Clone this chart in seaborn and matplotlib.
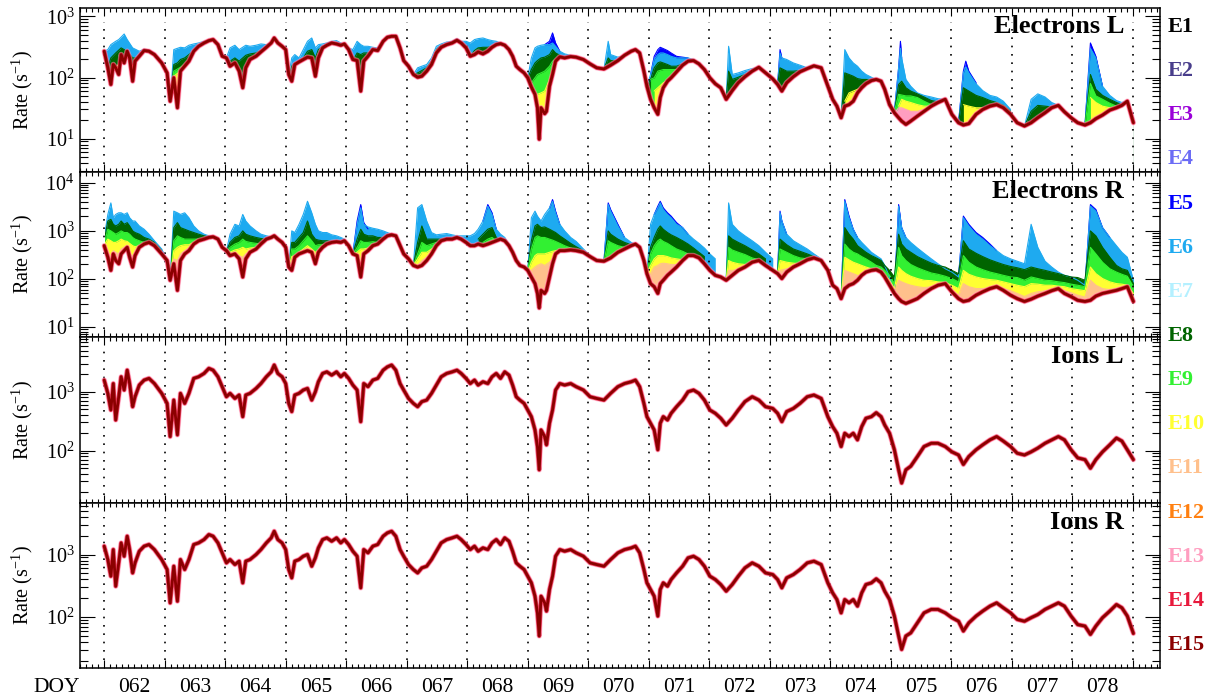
import numpy as np
import matplotlib
matplotlib.use("Agg")
import matplotlib.pyplot as plt
import matplotlib.transforms as mtransforms
import matplotlib.patheffects as pe
from matplotlib.ticker import MultipleLocator, LogLocator, NullFormatter
import seaborn as sns

# ---------------------------------------------------------------- data
CHANNELS = ["E1", "E2", "E3", "E4", "E5", "E6", "E7", "E8",
            "E9", "E10", "E11", "E12", "E13", "E14", "E15"]
CHANNEL_COLORS = ["#000000", "#483d8b", "#9a00d8", "#6c6cf5", "#0000ff",
                  "#1eaaf0", "#b4f0ff", "#006400", "#32f032", "#ffff32",
                  "#ffc08c", "#ff8010", "#ff9ec0", "#e8193c", "#8b0000"]
DAY_LABELS = ["062", "063", "064", "065", "066", "067", "068", "069", "070",
              "071", "072", "073", "074", "075", "076", "077", "078"]
PANEL_TITLES = ["Electrons L", "Electrons R", "Ions L", "Ions R"]

# time of the samples (day of year)
T_DOY = [62.00, 62.06, 62.11, 62.15, 62.19, 62.24, 62.28, 62.33, 62.38, 62.42,
         62.47, 62.51, 62.58, 62.66, 62.74, 62.83, 62.95, 63.04, 63.09, 63.15,
         63.21, 63.26, 63.33, 63.40, 63.48, 63.56, 63.65, 63.73, 63.80, 63.88,
         63.95, 64.02, 64.08, 64.16, 64.23, 64.29, 64.34, 64.41, 64.51, 64.59,
         64.68, 64.76, 64.81, 64.87, 64.94, 65.00, 65.05, 65.10, 65.15, 65.22,
         65.29, 65.36, 65.43, 65.49, 65.54, 65.61, 65.68, 65.76, 65.84, 65.91,
         65.97, 66.04, 66.11, 66.18, 66.24, 66.29, 66.36, 66.44, 66.52, 66.61,
         66.68, 66.75, 66.82, 66.89, 66.95, 67.03, 67.11, 67.18, 67.25, 67.33,
         67.41, 67.49, 67.57, 67.66, 67.75, 67.83, 67.90, 67.98, 68.05, 68.12,
         68.18, 68.26, 68.34, 68.41, 68.48, 68.55, 68.62, 68.69, 68.75, 68.81,
         68.87, 68.94, 69.00, 69.06, 69.12, 69.16, 69.19, 69.22, 69.28, 69.31,
         69.36, 69.41, 69.46, 69.53, 69.61, 69.71, 69.80, 69.92, 70.03, 70.14,
         70.26, 70.37, 70.49, 70.60, 70.71, 70.78, 70.85, 70.92, 70.97, 71.03,
         71.09, 71.15, 71.19, 71.24, 71.31, 71.37, 71.46, 71.56, 71.65, 71.74,
         71.83, 71.92, 72.01, 72.10, 72.19, 72.28, 72.38, 72.48, 72.59, 72.71,
         72.82, 72.93, 73.05, 73.13, 73.20, 73.28, 73.39, 73.50, 73.62, 73.73,
         73.85, 73.96, 74.04, 74.11, 74.18, 74.24, 74.31, 74.38, 74.45, 74.52,
         74.59, 74.68, 74.76, 74.84, 74.90, 74.98, 75.06, 75.13, 75.18, 75.25,
         75.33, 75.44, 75.55, 75.67, 75.78, 75.90, 76.01, 76.12, 76.20, 76.29,
         76.41, 76.52, 76.64, 76.75, 76.86, 76.98, 77.09, 77.21, 77.32, 77.43,
         77.55, 77.66, 77.77, 77.87, 77.98, 78.09, 78.21, 78.30, 78.39, 78.50,
         78.62, 78.73, 78.82, 78.91, 79.01]

# E15 count rates (s^-1) for each detector head
E15_ELEC_L = [269, 144, 77, 163, 144, 112, 237, 173, 269, 209,
              87, 185, 223, 276, 269, 237, 173, 119, 41, 99,
              32, 127, 153, 185, 269, 324, 367, 401, 417, 345,
              223, 209, 153, 173, 127, 68, 144, 197, 223, 262,
              312, 367, 443, 367, 324, 286, 112, 87, 163, 180,
              197, 215, 209, 105, 209, 305, 337, 367, 354, 337,
              354, 286, 197, 189, 60, 185, 223, 286, 276, 391,
              455, 472, 472, 305, 189, 153, 112, 101, 105, 127,
              163, 252, 312, 345, 367, 406, 367, 305, 223, 237,
              262, 243, 269, 312, 345, 358, 337, 286, 223, 153,
              135, 119, 99, 70, 53, 32, 9.8, 32, 25.6, 28,
              72, 112, 185, 217, 209, 220, 215, 197, 167, 144,
              138, 159, 189, 231, 269, 286, 252, 127, 72, 44,
              32, 25, 47, 68, 87, 99, 124, 159, 185, 189,
              167, 135, 99, 79, 68, 44, 61, 82, 103, 127,
              147, 119, 95, 77, 60, 82, 103, 124, 140, 155,
              144, 72, 44, 34, 22, 34, 36, 41, 56, 68,
              79, 89, 93, 87, 64, 36, 26.5, 22, 19.4, 17.1,
              19.4, 23.4, 28, 34, 39, 44, 25, 18.2, 16.7, 17.6,
              25, 30, 34, 36, 32, 25, 18.2, 16.1, 18.2, 22,
              26.5, 32, 35, 27.5, 22, 18.2, 16.7, 18.2, 21.2, 24.3,
              29.3, 32, 35, 41, 18.2]

E15_ELEC_R = [492, 283, 151, 332, 242, 207, 332, 388, 455, 283,
              177, 306, 455, 532, 576, 492, 332, 242, 94, 207,
              58, 242, 332, 388, 532, 623, 674, 730, 753, 674,
              455, 388, 306, 332, 262, 110, 262, 359, 420, 532,
              674, 730, 789, 674, 576, 455, 177, 151, 283, 332,
              359, 388, 359, 207, 359, 455, 532, 576, 595, 576,
              623, 492, 332, 306, 110, 332, 388, 492, 532, 674,
              789, 828, 789, 492, 332, 262, 191, 177, 191, 242,
              332, 492, 623, 674, 674, 730, 674, 576, 492, 492,
              532, 492, 532, 576, 623, 674, 623, 492, 359, 242,
              191, 177, 151, 110, 80, 50, 25, 58, 50, 58,
              110, 207, 332, 388, 388, 401, 388, 359, 292, 242,
              234, 274, 359, 420, 492, 532, 455, 242, 129, 80,
              69, 50, 80, 94, 119, 139, 177, 242, 306, 306,
              274, 207, 151, 119, 110, 94, 119, 151, 177, 223,
              242, 191, 151, 129, 102, 139, 177, 207, 250, 274,
              242, 151, 74, 63, 39, 63, 74, 80, 94, 119,
              139, 151, 156, 139, 110, 74, 50, 39, 34, 31,
              34, 39, 50, 63, 74, 80, 54, 39, 34, 36,
              46, 54, 63, 69, 58, 46, 39, 34, 38, 44,
              50, 57, 63, 50, 43, 36, 34, 36, 44, 50,
              54, 58, 63, 69, 34]

E15_IONS_L = [1580, 940, 490, 1380, 331, 823, 1800, 1070, 2330, 1380,
              557, 823, 1300, 1580, 1690, 1380, 940, 634, 173, 722,
              185, 940, 634, 940, 1690, 1800, 2050, 2500, 2330, 1800,
              1220, 823, 940, 770, 880, 377, 880, 940, 1140, 1380,
              1800, 2180, 2850, 2050, 1800, 1380, 634, 460, 880, 940,
              1070, 1140, 722, 1000, 1480, 2050, 2180, 1920, 2180, 1800,
              2050, 1690, 1300, 1070, 310, 1380, 1220, 1580, 1690, 2330,
              2650, 2850, 2330, 1380, 1070, 770, 634, 557, 680, 722,
              940, 1300, 1800, 2050, 2180, 2330, 2050, 1690, 1380, 1580,
              1300, 1480, 1380, 1800, 2050, 1690, 2180, 1920, 1300, 823,
              722, 634, 489, 377, 224, 117, 47, 224, 173, 125,
              291, 489, 1070, 1380, 1300, 1380, 1220, 1070, 823, 770,
              722, 940, 1220, 1380, 1480, 1580, 1220, 634, 377, 291,
              224, 103, 291, 377, 331, 430, 557, 722, 1000, 1070,
              940, 722, 489, 430, 354, 272, 354, 489, 680, 823,
              722, 557, 520, 430, 310, 460, 520, 634, 823, 880,
              770, 377, 255, 197, 117, 197, 173, 197, 152, 255,
              354, 377, 440, 377, 272, 197, 103, 47, 28, 47,
              54, 79, 117, 133, 133, 117, 95, 84, 58, 79,
              103, 125, 152, 173, 145, 117, 90, 84, 95, 110,
              133, 152, 173, 152, 103, 75, 70, 50, 70, 95,
              125, 163, 145, 103, 70]

E15_IONS_R = [1360, 832, 451, 1200, 312, 736, 1535, 940, 1963, 1200,
              509, 736, 1130, 1360, 1445, 1200, 832, 576, 169, 651,
              180, 832, 576, 832, 1445, 1535, 1735, 2085, 1963, 1535,
              1064, 736, 832, 692, 783, 353, 783, 832, 1000, 1200,
              1535, 1845, 2355, 1735, 1535, 1200, 576, 424, 783, 832,
              940, 1000, 651, 885, 1277, 1735, 1845, 1633, 1845, 1535,
              1735, 1445, 1130, 940, 294, 1200, 1064, 1360, 1445, 1963,
              2218, 2355, 1963, 1200, 940, 692, 576, 509, 612, 651,
              832, 1130, 1535, 1735, 1845, 1963, 1735, 1445, 1200, 1360,
              1130, 1277, 1200, 1535, 1735, 1445, 1845, 1633, 1130, 736,
              651, 576, 451, 353, 216, 117, 50, 216, 169, 125,
              276, 451, 940, 1200, 1130, 1200, 1064, 940, 736, 692,
              651, 832, 1064, 1200, 1277, 1360, 1064, 576, 353, 276,
              216, 104, 276, 353, 312, 399, 509, 651, 885, 940,
              832, 651, 451, 399, 332, 260, 332, 451, 612, 736,
              651, 509, 479, 399, 294, 424, 479, 576, 736, 783,
              692, 353, 244, 191, 117, 191, 169, 191, 150, 244,
              332, 353, 409, 353, 260, 191, 104, 50, 30.5, 50,
              56, 81, 117, 133, 133, 117, 98, 86, 60, 81,
              104, 125, 150, 169, 141, 117, 92, 86, 98, 110,
              133, 150, 169, 150, 104, 76, 72, 53, 72, 98,
              125, 159, 141, 104, 55]

# Lower-energy channels where they rise above E15 (electrons only):
# each entry is a list of (day of year, rate) runs.
ELEC_L_E5 = [
    [(69.28, 345), (69.36, 391), (69.41, 535), (69.46, 367), (69.53, 269)],
    [(71.03, 112), (71.09, 222), (71.15, 286), (71.19, 312), (71.24, 297), (71.31, 276),
     (71.37, 252), (71.46, 222), (71.56, 215), (71.65, 209)],
    [(73.13, 77), (73.17, 286), (73.20, 209)],
    [(75.06, 27), (75.13, 144), (75.16, 391), (75.18, 209)],
    [(76.12, 18), (76.20, 127), (76.24, 185), (76.29, 127), (76.41, 82)],
    [(78.21, 16.7), (78.30, 367), (78.39, 222), (78.50, 72)],
]
ELEC_L_E6 = [
    [(62.00, 269), (62.06, 286), (62.11, 345), (62.19, 391), (62.24, 417), (62.33, 515),
     (62.38, 417), (62.47, 305), (62.58, 269), (62.66, 290), (62.74, 280), (62.83, 250),
     (62.95, 185), (63.04, 119)],
    [(63.09, 41), (63.15, 286), (63.26, 312), (63.33, 305), (63.40, 337), (63.48, 354),
     (63.56, 367), (63.65, 391), (63.73, 401)],
    [(64.02, 209), (64.08, 305), (64.16, 337), (64.23, 286), (64.34, 337), (64.41, 324),
     (64.51, 337), (64.59, 354), (64.68, 345), (64.76, 367)],
    [(65.05, 112), (65.10, 209), (65.15, 237), (65.22, 209), (65.29, 286), (65.36, 391),
     (65.43, 443), (65.49, 305), (65.54, 345), (65.61, 354), (65.68, 367), (65.76, 391),
     (65.84, 401), (65.91, 367), (65.97, 354), (66.04, 305), (66.11, 286), (66.18, 391),
     (66.24, 345), (66.29, 324), (66.36, 324), (66.44, 312), (66.52, 305), (66.61, 391)],
    [(67.11, 112), (67.18, 144), (67.25, 153), (67.33, 163), (67.41, 209), (67.49, 324),
     (67.57, 354), (67.66, 380), (67.75, 391), (67.83, 432), (67.90, 391), (67.98, 391),
     (68.05, 367), (68.12, 417), (68.18, 432), (68.26, 443), (68.34, 417), (68.41, 401),
     (68.48, 391), (68.55, 367), (68.62, 345), (68.69, 286)],
    [(69.00, 99), (69.06, 209), (69.12, 305), (69.16, 324), (69.22, 337), (69.28, 345),
     (69.36, 345), (69.41, 367), (69.46, 324), (69.53, 269), (69.61, 243), (69.71, 231),
     (69.80, 215)],
    [(70.26, 138), (70.33, 391), (70.37, 237), (70.49, 215), (70.60, 231)],
    [(70.97, 72), (71.03, 112), (71.09, 200), (71.15, 237), (71.19, 252), (71.24, 252),
     (71.31, 237), (71.37, 222), (71.46, 209), (71.56, 209), (71.65, 209), (71.74, 197),
     (71.83, 173), (71.92, 135)],
    [(72.28, 44), (72.32, 324), (72.38, 112), (72.48, 119), (72.59, 130), (72.71, 140),
     (72.82, 147)],
    [(73.13, 77), (73.17, 250), (73.20, 209), (73.28, 197), (73.39, 173), (73.50, 159),
     (73.62, 144)],
    [(74.18, 22), (74.24, 286), (74.31, 209), (74.38, 173), (74.45, 153), (74.52, 127),
     (74.59, 112), (74.68, 101), (74.76, 93)],
    [(75.06, 27), (75.13, 144), (75.16, 300), (75.18, 209), (75.25, 93), (75.33, 72),
     (75.44, 56), (75.55, 51), (75.67, 48), (75.78, 45), (75.90, 44)],
    [(76.12, 18), (76.20, 119), (76.24, 150), (76.29, 119), (76.41, 79), (76.52, 61),
     (76.64, 51), (76.75, 48), (76.86, 41), (76.98, 30)],
    [(77.21, 16), (77.32, 44), (77.43, 54), (77.55, 48), (77.66, 39), (77.77, 35)],
    [(78.21, 16.7), (78.30, 300), (78.39, 209), (78.50, 72), (78.62, 51), (78.73, 42),
     (78.82, 39), (78.91, 42), (79.01, 18)],
]
ELEC_L_E8 = [
    [(62.06, 144), (62.11, 209), (62.19, 252), (62.28, 305), (62.33, 286), (62.38, 269),
     (62.47, 209), (62.58, 209), (62.66, 209), (62.74, 252)],
    [(63.09, 41), (63.15, 163), (63.21, 173), (63.26, 197), (63.33, 209), (63.40, 237),
     (63.48, 276), (63.56, 324), (63.65, 354), (63.73, 391)],
    [(64.02, 204), (64.08, 185), (64.16, 209), (64.23, 185), (64.34, 231), (64.41, 243),
     (64.51, 252), (64.59, 276), (64.68, 305)],
    [(65.05, 105), (65.10, 153), (65.15, 173), (65.22, 185), (65.29, 209), (65.36, 269),
     (65.43, 286), (65.49, 209), (65.54, 286), (65.61, 324), (65.68, 345)],
    [(66.11, 189), (66.18, 252), (66.24, 237), (66.29, 252), (66.36, 252), (66.44, 286)],
    [(67.11, 109), (67.18, 119), (67.25, 130), (67.33, 144), (67.41, 185), (67.49, 286),
     (67.57, 337), (67.66, 354), (67.75, 371), (67.83, 391)],
    [(68.05, 223), (68.12, 276), (68.18, 305), (68.26, 312), (68.34, 312), (68.41, 324),
     (68.48, 345)],
    [(69.00, 99), (69.06, 135), (69.12, 173), (69.16, 189), (69.22, 209), (69.28, 215),
     (69.36, 237), (69.41, 286), (69.46, 252), (69.53, 231), (69.61, 215), (69.71, 220)],
    [(70.26, 138), (70.33, 209), (70.37, 189), (70.49, 189)],
    [(70.97, 72), (71.03, 93), (71.09, 144), (71.15, 173), (71.19, 180), (71.24, 173),
     (71.31, 163), (71.37, 153), (71.46, 153), (71.56, 167), (71.65, 185)],
    [(72.28, 44), (72.32, 127), (72.38, 93), (72.48, 101), (72.59, 112), (72.71, 127)],
    [(73.13, 77), (73.17, 144), (73.28, 127), (73.39, 127), (73.50, 130), (73.62, 140)],
    [(74.18, 22), (74.24, 119), (74.31, 112), (74.38, 105), (74.45, 96), (74.52, 93),
     (74.59, 93), (74.68, 92)],
    [(75.06, 27.5), (75.13, 77), (75.18, 87), (75.25, 68), (75.33, 60), (75.44, 54),
     (75.55, 48), (75.67, 42), (75.78, 40), (75.90, 41)],
    [(76.12, 18), (76.20, 68), (76.29, 60), (76.41, 51), (76.52, 47), (76.64, 42),
     (76.75, 39), (76.86, 35), (76.98, 28)],
    [(77.21, 16), (77.32, 28), (77.43, 35), (77.55, 34), (77.66, 33), (77.77, 34)],
    [(78.21, 16.7), (78.30, 112), (78.39, 64), (78.50, 51), (78.62, 44), (78.73, 39),
     (78.82, 36), (78.91, 40), (79.01, 18)],
]
ELEC_L_E9 = [
    [(63.09, 41), (63.15, 127), (63.26, 147), (63.40, 185), (63.48, 237), (63.56, 286)],
    [(69.00, 99), (69.06, 82), (69.12, 99), (69.16, 112), (69.22, 119), (69.28, 127),
     (69.36, 153), (69.41, 185), (69.46, 197), (69.53, 209)],
    [(71.03, 93), (71.09, 99), (71.15, 127), (71.24, 135), (71.37, 135), (71.46, 135),
     (71.56, 147), (71.65, 173)],
    [(75.06, 27.5), (75.13, 53), (75.25, 50), (75.33, 50), (75.44, 47), (75.55, 41),
     (75.67, 36), (75.78, 35), (75.90, 39)],
    [(78.21, 16.7), (78.30, 80), (78.39, 50), (78.50, 44), (78.62, 38), (78.73, 34)],
]
ELEC_L_E10 = [
    [(62.11, 77), (62.15, 135), (62.19, 144), (62.28, 185), (62.38, 209), (62.47, 153),
     (62.58, 185)],
    [(63.09, 41), (63.15, 105), (63.26, 127), (63.40, 163), (63.48, 223)],
    [(69.00, 99), (69.12, 56), (69.16, 53), (69.22, 56), (69.28, 60), (69.36, 93),
     (69.41, 135), (69.46, 173), (69.53, 209)],
    [(71.09, 60), (71.15, 68), (71.24, 82), (71.37, 96), (71.46, 116)],
    [(74.24, 41), (74.31, 56), (74.38, 60), (74.45, 64), (74.52, 70)],
    [(75.13, 34), (75.18, 44), (75.25, 41), (75.33, 39), (75.44, 36), (75.55, 34),
     (75.67, 34), (75.78, 35), (75.90, 39)],
    [(76.20, 36), (76.29, 34), (76.41, 32), (76.52, 32)],
    [(78.30, 47), (78.39, 39), (78.50, 34), (78.62, 32), (78.73, 31)],
]
ELEC_L_E13 = [
    [(75.06, 26), (75.13, 32), (75.18, 32), (75.25, 30), (75.33, 28), (75.44, 28),
     (75.55, 30), (75.67, 33), (75.78, 36)],
]

ELEC_R_E5 = [
    [(66.11, 332), (66.18, 1605), (66.24, 3530), (66.29, 1483), (66.36, 1100)],
    [(68.26, 1605), (68.34, 3530), (68.41, 2380), (68.48, 1082)],
    [(69.36, 2950), (69.41, 4480), (69.46, 2575), (69.53, 1371)],
    [(70.26, 234), (70.33, 3820), (70.37, 2785), (70.49, 1371), (70.60, 730)],
    [(71.09, 2200), (71.15, 3265), (71.19, 4130), (71.24, 3015), (71.31, 2380),
     (71.37, 2030), (71.46, 1483), (71.56, 1171), (71.65, 854)],
    [(73.13, 129), (73.17, 2575), (73.20, 1605), (73.28, 854)],
    [(74.18, 39), (74.24, 4480), (74.31, 2030), (74.38, 1082), (74.45, 730)],
    [(75.06, 50), (75.13, 3530), (75.18, 1171), (75.25, 730)],
    [(76.12, 110), (76.20, 2030), (76.29, 1371), (76.41, 924), (76.52, 730),
     (76.64, 532), (76.75, 388)],
    [(78.21, 74), (78.30, 3530), (78.39, 2785), (78.50, 1171), (78.62, 730)],
]
ELEC_R_E6 = [
    [(62.00, 730), (62.06, 2200), (62.11, 3820), (62.15, 1880), (62.19, 2200), (62.24, 2380),
     (62.28, 2380), (62.33, 2200), (62.38, 2380), (62.42, 1880), (62.47, 1605), (62.51, 1605),
     (62.58, 1267), (62.66, 1082), (62.74, 854), (62.83, 623), (62.95, 420), (63.04, 242)],
    [(63.09, 94), (63.15, 2575), (63.21, 2380), (63.26, 2200), (63.33, 2380), (63.40, 1880),
     (63.48, 1267), (63.56, 1000), (63.65, 854), (63.73, 789), (63.80, 753), (63.88, 674)],
    [(64.02, 388), (64.08, 854), (64.16, 1371), (64.23, 1267), (64.29, 2200), (64.34, 1605),
     (64.41, 1267), (64.51, 1000), (64.59, 854), (64.68, 789), (64.76, 753), (64.81, 789)],
    [(65.05, 177), (65.10, 1000), (65.15, 924), (65.22, 1371), (65.29, 2200), (65.36, 4130),
     (65.43, 2380), (65.49, 1371), (65.54, 1000), (65.61, 924), (65.68, 924), (65.76, 828),
     (65.84, 789), (65.91, 730), (65.97, 674)],
    [(66.11, 332), (66.18, 1371), (66.24, 3015), (66.29, 1371), (66.36, 1208), (66.44, 1135),
     (66.52, 1082), (66.61, 1000), (66.68, 924), (66.75, 854)],
    [(67.11, 191), (67.18, 3015), (67.25, 3530), (67.33, 1605), (67.41, 924), (67.49, 828),
     (67.57, 854), (67.66, 881), (67.75, 828), (67.83, 789), (67.90, 789), (67.98, 789),
     (68.05, 789), (68.12, 881), (68.18, 1082), (68.26, 1605), (68.34, 3265), (68.41, 2200),
     (68.48, 1082), (68.55, 854), (68.62, 730), (68.69, 532)],
    [(69.00, 151), (69.06, 1880), (69.12, 2575), (69.16, 2030), (69.22, 1605), (69.28, 2200),
     (69.36, 3015), (69.41, 4130), (69.46, 2380), (69.53, 1371), (69.61, 1000), (69.71, 730),
     (69.80, 604), (69.92, 420), (70.03, 306)],
    [(70.26, 234), (70.33, 3530), (70.37, 2575), (70.49, 1267), (70.60, 730), (70.71, 576),
     (70.78, 532)],
    [(70.97, 129), (71.03, 1371), (71.09, 2200), (71.15, 3015), (71.19, 3820), (71.24, 2785),
     (71.31, 2200), (71.37, 1880), (71.46, 1371), (71.56, 1171), (71.65, 854), (71.74, 674),
     (71.83, 550), (71.92, 440), (72.01, 332), (72.10, 262)],
    [(72.28, 94), (72.32, 3820), (72.38, 1371), (72.48, 1000), (72.59, 789), (72.71, 623),
     (72.82, 492), (72.93, 359), (73.05, 262)],
    [(73.13, 129), (73.17, 2380), (73.20, 1605), (73.28, 854), (73.39, 623), (73.50, 515),
     (73.62, 420), (73.73, 332), (73.85, 262)],
    [(74.18, 39), (74.24, 4130), (74.31, 1880), (74.38, 1082), (74.45, 730), (74.52, 576),
     (74.59, 469), (74.68, 359), (74.76, 306), (74.84, 262), (74.90, 191), (74.98, 110),
     (75.06, 50), (75.13, 3265), (75.18, 1171), (75.25, 730), (75.33, 576), (75.44, 440),
     (75.55, 342), (75.67, 262), (75.78, 207), (75.90, 163), (76.01, 139), (76.12, 110),
     (76.20, 1880), (76.29, 1267), (76.41, 854), (76.52, 674), (76.64, 492), (76.75, 388),
     (76.86, 306), (76.98, 262), (77.09, 234), (77.21, 207), (77.32, 1371), (77.43, 455),
     (77.55, 234), (77.66, 177), (77.77, 139), (77.87, 119), (77.98, 110), (78.09, 94),
     (78.21, 74), (78.30, 3265), (78.39, 2575), (78.50, 1171), (78.62, 730), (78.73, 492),
     (78.82, 359), (78.91, 283), (79.01, 94)],
]
ELEC_R_E8 = [
    [(62.00, 623), (62.06, 1605), (62.11, 1737), (62.15, 1371), (62.19, 1267), (62.24, 1371),
     (62.28, 1605), (62.33, 1371), (62.38, 1483), (62.42, 1267), (62.47, 1000), (62.51, 924),
     (62.58, 854), (62.66, 730), (62.74, 674), (62.83, 576), (62.95, 388)],
    [(63.09, 94), (63.15, 1171), (63.21, 1483), (63.26, 1171), (63.33, 1082), (63.40, 1000),
     (63.48, 924), (63.56, 854), (63.65, 789), (63.73, 753)],
    [(64.02, 388), (64.08, 576), (64.16, 730), (64.23, 789), (64.29, 1000), (64.34, 854),
     (64.41, 789), (64.51, 730), (64.59, 695), (64.68, 674)],
    [(65.05, 177), (65.10, 576), (65.15, 576), (65.22, 730), (65.29, 924), (65.36, 1605),
     (65.43, 854), (65.49, 674), (65.54, 643), (65.61, 623), (65.68, 623), (65.76, 604)],
    [(66.11, 332), (66.18, 674), (66.24, 1082), (66.29, 854), (66.36, 789), (66.44, 789),
     (66.52, 730), (66.61, 730)],
    [(67.11, 191), (67.18, 576), (67.25, 1267), (67.33, 674), (67.41, 674), (67.49, 674),
     (67.57, 674), (67.66, 674)],
    [(68.18, 674), (68.26, 854), (68.34, 1082), (68.41, 1171), (68.48, 730), (68.55, 643),
     (68.62, 604)],
    [(69.00, 151), (69.06, 623), (69.12, 1267), (69.16, 1371), (69.22, 1171), (69.28, 1208),
     (69.36, 1082), (69.41, 1000), (69.46, 924), (69.53, 789), (69.61, 674), (69.71, 550),
     (69.80, 469), (69.92, 388)],
    [(70.26, 234), (70.33, 1000), (70.37, 854), (70.49, 674), (70.60, 576), (70.71, 515)],
    [(70.97, 129), (71.03, 455), (71.09, 730), (71.15, 1082), (71.19, 1267), (71.24, 1082),
     (71.31, 924), (71.37, 828), (71.46, 730), (71.56, 623), (71.65, 532), (71.74, 440),
     (71.83, 359), (71.92, 292)],
    [(72.28, 94), (72.32, 789), (72.38, 674), (72.48, 576), (72.59, 492), (72.71, 401),
     (72.82, 332), (72.93, 262)],
    [(73.13, 129), (73.17, 674), (73.28, 515), (73.39, 420), (73.50, 376), (73.62, 332),
     (73.73, 292)],
    [(74.18, 39), (74.24, 1171), (74.31, 854), (74.38, 674), (74.45, 492), (74.52, 420),
     (74.59, 359), (74.68, 306), (74.76, 274), (74.84, 242), (74.90, 191), (74.98, 151),
     (75.06, 110), (75.13, 854), (75.18, 532), (75.25, 420), (75.33, 359), (75.44, 292),
     (75.55, 250), (75.67, 213), (75.78, 191), (75.90, 177), (76.01, 151), (76.12, 129),
     (76.20, 623), (76.29, 420), (76.41, 342), (76.52, 292), (76.64, 250), (76.75, 223),
     (76.86, 200), (76.98, 182), (77.09, 171), (77.21, 156), (77.32, 177), (77.43, 163),
     (77.55, 151), (77.66, 139), (77.77, 129), (77.87, 119), (77.98, 110), (78.09, 107),
     (78.21, 94), (78.30, 1000), (78.39, 789), (78.50, 455), (78.62, 283), (78.73, 191),
     (78.82, 163), (78.91, 151), (79.01, 80)],
]
ELEC_R_E9 = [
    [(62.00, 532), (62.06, 1082), (62.11, 1000), (62.15, 924), (62.19, 854), (62.24, 924),
     (62.28, 1000), (62.33, 924), (62.38, 924), (62.42, 854), (62.47, 730), (62.51, 674),
     (62.58, 623), (62.66, 576), (62.74, 550)],
    [(63.09, 94), (63.15, 623), (63.21, 789), (63.26, 730), (63.33, 674), (63.40, 674),
     (63.48, 674), (63.56, 674)],
    [(64.02, 359), (64.08, 455), (64.16, 532), (64.23, 576), (64.29, 674), (64.34, 604),
     (64.41, 576), (64.51, 550), (64.59, 532)],
    [(65.05, 177), (65.10, 420), (65.15, 420), (65.22, 492), (65.29, 623), (65.36, 789),
     (65.43, 623), (65.49, 492), (65.54, 515), (65.61, 515), (65.68, 532)],
    [(66.11, 322), (66.18, 455), (66.24, 623), (66.29, 576), (66.36, 576), (66.44, 595),
     (66.52, 576)],
    [(67.11, 191), (67.18, 332), (67.25, 576), (67.33, 492), (67.41, 532), (67.49, 576)],
    [(68.26, 576), (68.34, 674), (68.41, 730), (68.48, 623), (68.55, 604)],
    [(69.00, 151), (69.06, 420), (69.12, 730), (69.16, 789), (69.22, 730), (69.28, 730),
     (69.36, 674), (69.41, 643), (69.46, 604), (69.53, 550), (69.61, 492), (69.71, 440),
     (69.80, 401)],
    [(70.26, 234), (70.33, 623), (70.37, 576), (70.49, 492), (70.60, 455)],
    [(70.97, 129), (71.03, 332), (71.09, 492), (71.15, 623), (71.19, 674), (71.24, 604),
     (71.31, 550), (71.37, 492), (71.46, 420), (71.56, 376), (71.65, 332), (71.74, 292)],
    [(72.28, 94), (72.32, 455), (72.38, 401), (72.48, 359), (72.59, 322), (72.71, 274),
     (72.82, 250)],
    [(73.13, 129), (73.17, 420), (73.28, 359), (73.39, 306), (73.50, 274), (73.62, 262)],
    [(74.18, 39), (74.24, 532), (74.31, 420), (74.38, 359), (74.45, 332), (74.52, 292),
     (74.59, 262), (74.68, 223), (74.76, 191), (74.84, 177), (74.90, 151), (74.98, 119),
     (75.06, 80), (75.13, 455), (75.18, 306), (75.25, 242), (75.33, 200), (75.44, 171),
     (75.55, 151), (75.67, 133), (75.78, 125), (75.90, 114), (76.01, 102), (76.12, 87),
     (76.20, 306), (76.29, 223), (76.41, 177), (76.52, 156), (76.64, 139), (76.75, 129),
     (76.86, 119), (76.98, 110), (77.09, 107), (77.21, 94), (77.32, 110), (77.43, 102),
     (77.55, 94), (77.66, 92), (77.77, 87), (77.87, 84), (77.98, 78), (78.09, 74),
     (78.21, 69), (78.30, 455), (78.39, 332), (78.50, 223), (78.62, 163), (78.73, 139),
     (78.82, 125), (78.91, 114), (79.01, 69)],
]
ELEC_R_E10 = [
    [(62.00, 515), (62.06, 674), (62.11, 623), (62.15, 576), (62.19, 576), (62.24, 623),
     (62.28, 674), (62.33, 623), (62.38, 604), (62.42, 550), (62.47, 492), (62.51, 469),
     (62.58, 492), (62.66, 515)],
    [(63.09, 94), (63.15, 388), (63.21, 455), (63.26, 492), (63.33, 515), (63.40, 515),
     (63.48, 576), (63.56, 604)],
    [(64.02, 332), (64.08, 359), (64.16, 401), (64.23, 420), (64.29, 455), (64.34, 420),
     (64.41, 440), (64.51, 455)],
    [(65.05, 177), (65.10, 292), (65.15, 306), (65.22, 359), (65.29, 420), (65.36, 492),
     (65.43, 420), (65.49, 359), (65.54, 388), (65.61, 440)],
    [(66.11, 306), (66.18, 359), (66.24, 420), (66.29, 420), (66.36, 440), (66.44, 469)],
    [(67.11, 191), (67.18, 262), (67.25, 359), (67.33, 359), (67.41, 420), (67.49, 469)],
    [(69.00, 139), (69.06, 223), (69.12, 306), (69.16, 332), (69.22, 332), (69.28, 332),
     (69.36, 359), (69.41, 376), (69.46, 388), (69.53, 388), (69.61, 376)],
    [(70.97, 129), (71.03, 191), (71.09, 262), (71.15, 306), (71.19, 306), (71.24, 306),
     (71.31, 292), (71.37, 274), (71.46, 262), (71.56, 250), (71.65, 242), (71.74, 250)],
    [(72.28, 94), (72.32, 242), (72.38, 223), (72.48, 207), (72.59, 200), (72.71, 200)],
    [(73.13, 129), (73.17, 242), (73.28, 223), (73.39, 213), (73.50, 207), (73.62, 213)],
    [(74.18, 39), (74.24, 283), (74.31, 250), (74.38, 223), (74.45, 207), (74.52, 191),
     (74.59, 177), (74.68, 163), (74.76, 151), (74.84, 139), (74.90, 119), (74.98, 94),
     (75.06, 63), (75.13, 177), (75.18, 151), (75.25, 129), (75.33, 114), (75.44, 102),
     (75.55, 94), (75.67, 92), (75.78, 87), (75.90, 84), (76.01, 74), (76.12, 63),
     (76.20, 151), (76.29, 125), (76.41, 110), (76.52, 102), (76.64, 97), (76.75, 94),
     (76.86, 87), (76.98, 80), (77.09, 74), (77.21, 69), (77.32, 80), (77.43, 78),
     (77.55, 74), (77.66, 74), (77.77, 71), (77.87, 69), (77.98, 63), (78.09, 60),
     (78.21, 57), (78.30, 177), (78.39, 129), (78.50, 102), (78.62, 87), (78.73, 80),
     (78.82, 78), (78.91, 74), (79.01, 50)],
]
ELEC_R_E11 = [
    [(62.00, 492), (62.06, 388), (62.11, 262), (62.15, 388), (62.19, 359), (62.24, 332),
     (62.28, 420), (62.33, 455), (62.38, 455), (62.42, 359), (62.47, 283), (62.51, 388),
     (62.58, 440)],
    [(63.09, 94), (63.15, 262), (63.21, 242), (63.26, 332), (63.33, 388), (63.40, 440)],
    [(64.02, 332), (64.08, 274), (64.16, 306), (64.23, 306), (64.29, 283), (64.34, 332),
     (64.41, 359)],
    [(65.05, 177), (65.10, 207), (65.15, 242), (65.22, 283), (65.29, 306), (65.36, 359),
     (65.43, 332), (65.49, 262), (65.54, 332)],
    [(66.11, 283), (66.18, 292), (66.24, 223), (66.29, 342), (66.36, 376)],
    [(67.11, 191), (67.18, 191), (67.25, 242), (67.33, 283), (67.41, 332)],
    [(68.94, 177), (69.00, 139), (69.06, 151), (69.12, 177), (69.16, 191), (69.22, 207),
     (69.28, 191), (69.36, 223), (69.41, 262), (69.46, 306), (69.53, 342), (69.61, 359)],
    [(70.97, 129), (71.03, 129), (71.09, 177), (71.15, 191), (71.19, 207), (71.24, 213),
     (71.31, 207), (71.37, 200), (71.46, 200), (71.56, 213), (71.65, 234)],
    [(72.28, 94), (72.32, 151), (72.38, 151), (72.48, 156), (72.59, 163), (72.71, 183)],
    [(73.13, 129), (73.17, 151), (73.28, 163), (73.39, 171), (73.50, 183), (73.62, 207)],
    [(74.18, 39), (74.24, 151), (74.31, 139), (74.38, 129), (74.45, 119), (74.52, 114),
     (74.59, 119), (74.68, 125), (74.76, 125), (74.84, 114), (74.90, 94), (74.98, 74),
     (75.06, 54), (75.13, 94), (75.18, 87), (75.25, 80), (75.33, 74), (75.44, 69),
     (75.55, 66), (75.67, 69), (75.78, 71), (75.90, 74), (76.01, 58), (76.12, 46),
     (76.20, 80), (76.29, 69), (76.41, 63), (76.52, 63), (76.64, 66), (76.75, 69),
     (76.86, 63), (76.98, 57), (77.09, 50), (77.21, 43), (77.32, 50), (77.43, 54),
     (77.55, 57), (77.66, 60), (77.77, 63), (77.87, 57), (77.98, 52), (78.09, 46),
     (78.21, 42), (78.30, 94), (78.39, 74), (78.50, 63), (78.62, 60), (78.73, 63),
     (78.82, 66), (78.91, 69), (79.01, 36)],
]

BANDS_ELEC_L = {"E5": ELEC_L_E5, "E6": ELEC_L_E6, "E8": ELEC_L_E8,
                "E9": ELEC_L_E9, "E10": ELEC_L_E10, "E13": ELEC_L_E13}
BANDS_ELEC_R = {"E5": ELEC_R_E5, "E6": ELEC_R_E6, "E8": ELEC_R_E8,
                "E9": ELEC_R_E9, "E10": ELEC_R_E10, "E11": ELEC_R_E11}

# ---------------------------------------------------------------- style
sns.set_theme(style="ticks")
plt.rcParams["font.family"] = ["Liberation Serif", "DejaVu Serif"]
plt.rcParams["mathtext.fontset"] = "custom"
plt.rcParams["mathtext.rm"] = "Liberation Serif"
plt.rcParams["mathtext.it"] = "Liberation Serif:italic"
plt.rcParams["mathtext.bf"] = "Liberation Serif:bold"
plt.rcParams["axes.axisbelow"] = False
plt.rcParams["text.color"] = "black"
plt.rcParams["axes.labelcolor"] = "black"
plt.rcParams["xtick.color"] = "black"
plt.rcParams["ytick.color"] = "black"

COLOR = dict(zip(CHANNELS, CHANNEL_COLORS))

W, H = 1207, 697
fig = plt.figure(figsize=(W / 100, H / 100), dpi=100)
fig.patch.set_facecolor("white")

# panel rectangles in pixels: (top, bottom)
panel_px = [(8, 172), (172, 337), (337, 503), (503, 668)]
ax_left, ax_right = 80, 1160
x_range = (61.6, 79.45)
ylims = [(2.85, 1370), (6.2, 16800), (12.8, 8550), (15.4, 6660)]
e15_sets = [E15_ELEC_L, E15_ELEC_R, E15_IONS_L, E15_IONS_R]
band_sets = [BANDS_ELEC_L, BANDS_ELEC_R, {}, {}]

# the E15 trace carries a thin crimson/pink fringe from the neighbouring channels
trace_fx = [pe.Stroke(linewidth=4.0, foreground=COLOR["E13"], alpha=0.55),
            pe.Stroke(linewidth=3.0, foreground=COLOR["E14"], alpha=0.8),
            pe.Normal()]

axes = []
for (top, bot), ylim, e15, bands, title in zip(panel_px, ylims, e15_sets,
                                               band_sets, PANEL_TITLES):
    ax = fig.add_axes([ax_left / W, 1 - bot / H, (ax_right - ax_left) / W,
                       (bot - top) / H])
    ax.set_facecolor("white")
    ax.set_yscale("log")
    floor = ylim[0] * 0.3

    # lower-energy channels drawn first, so higher channel numbers overlay them
    for name in CHANNELS[:-1]:
        for seg in bands.get(name, []):
            t = [p[0] for p in seg]
            v = [p[1] for p in seg]
            ax.fill_between(t, v, floor, color=COLOR[name], lw=0, zorder=1)
            ax.plot(t, v, color=COLOR[name], lw=0.8, zorder=1.1)
    # blank out everything below the E15 trace (and before the first sample)
    ax.fill_between(T_DOY, e15, floor, color="white", lw=0, zorder=2)
    ax.axvspan(x_range[0], T_DOY[0] + 0.01, color="white", lw=0, zorder=2)

    # day boundaries
    for d in range(62, 80):
        ax.axvline(d, ymin=0.05, ymax=0.915, color="black", lw=1.2,
                   ls=(0, (1, 4)), zorder=2.5)

    sns.lineplot(x=T_DOY, y=e15, ax=ax, color=COLOR["E15"], lw=2.0,
                 estimator=None, sort=False, zorder=3, path_effects=trace_fx)

    ax.set_xlim(*x_range)
    ax.set_ylim(*ylim)
    ax.xaxis.set_major_locator(MultipleLocator(1))
    ax.xaxis.set_minor_locator(MultipleLocator(0.1))
    ax.xaxis.set_major_formatter(NullFormatter())
    ax.xaxis.set_minor_formatter(NullFormatter())
    ax.yaxis.set_major_locator(LogLocator(base=10, numticks=12))
    ax.yaxis.set_minor_locator(LogLocator(base=10, subs=np.arange(2, 10), numticks=12))
    ax.yaxis.set_minor_formatter(NullFormatter())
    ax.tick_params(axis="both", which="both", direction="in", top=True,
                   right=True, width=0.8, colors="black")
    ax.tick_params(axis="y", which="major", length=11, labelsize=14.5, pad=4)
    ax.tick_params(axis="y", which="minor", length=5.5)
    ax.tick_params(axis="x", which="major", length=6)
    ax.tick_params(axis="x", which="minor", length=3)
    for sp in ax.spines.values():
        sp.set_visible(True)
        sp.set_color("black")
        sp.set_linewidth(1.1)
        sp.set_zorder(4)
    ax.set_xlabel("")
    ax.set_ylabel("Rate (s$^{-1}$)", fontsize=14.5)
    ax.yaxis.set_label_coords(-0.042, 0.5)
    ax.text(0.9667, 0.845, title, transform=ax.transAxes, ha="right",
            va="baseline", fontsize=19, fontweight="bold", zorder=5)
    axes.append(ax)

# day labels under the bottom panel, centred on each day
bottom_ax = axes[-1]
trans = mtransforms.blended_transform_factory(bottom_ax.transData,
                                              bottom_ax.transAxes)
for i, lab in enumerate(DAY_LABELS):
    bottom_ax.text(62 + i + 0.5, -0.146, lab, transform=trans, ha="center",
                   va="baseline", fontsize=15.5)
fig.text(33 / W, 1 - 692 / H, "DOY", ha="left", va="baseline", fontsize=15.5)

# channel key down the right-hand side
for i, (name, col) in enumerate(zip(CHANNELS, CHANNEL_COLORS)):
    y = 27 + i * 44.14
    fig.text(1168 / W, 1 - y / H, name, color=col, fontsize=16,
             fontweight="bold", ha="left", va="center")

fig.savefig("out.png", dpi=100, facecolor="white")
